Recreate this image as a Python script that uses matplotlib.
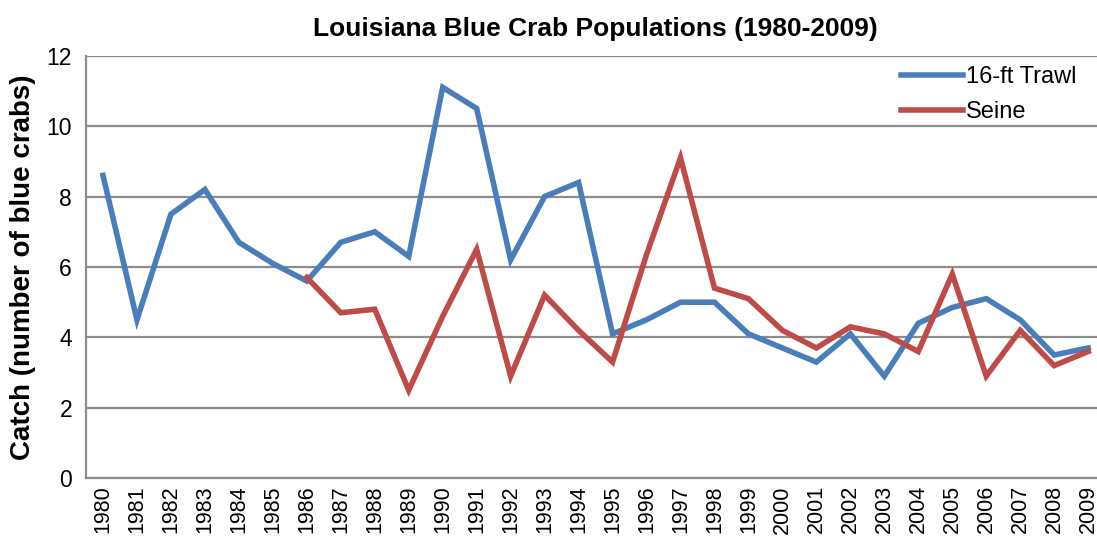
import numpy as np
import matplotlib.pyplot as plt

plt.rcParams['font.family'] = ['Liberation Sans', 'DejaVu Sans']

# Annual catch per sample, 1980-2009
years = [str(y) for y in range(1980, 2010)]
trawl = [8.6, 4.5, 7.5, 8.2, 6.7, 6.1, 5.6, 6.7, 7.0, 6.3,
         11.1, 10.5, 6.2, 8.0, 8.4, 4.1, 4.5, 5.0, 5.0, 4.1,
         3.7, 3.3, 4.1, 2.9, 4.4, 4.85, 5.1, 4.5, 3.5, 3.7]
# seine sampling starts in 1986
seine_years = years[6:]
seine = [5.7, 4.7, 4.8, 2.5, 4.6, 6.5, 2.9, 5.2, 4.2, 3.3,
         6.35, 9.1, 5.4, 5.1, 4.2, 3.7, 4.3, 4.1, 3.6, 5.8,
         2.9, 4.2, 3.2, 3.6]

fig = plt.figure(figsize=(10.97, 5.4), dpi=100)
ax = fig.add_axes([0.0784, 0.1143, 0.929, 0.7826])

x_all = np.arange(len(years))
x_seine = x_all[6:]

ax.plot(x_all, trawl, color='#4A7EBB', lw=4.0, label='16-ft Trawl', solid_joinstyle='miter')
ax.plot(x_seine, seine, color='#BE4B48', lw=4.0, label='Seine', solid_joinstyle='miter')

ax.set_xlim(-0.5, len(years) - 0.5)
ax.set_ylim(0, 12)
ax.set_yticks(range(0, 13, 2))
ax.set_xticks(x_all)
ax.set_xticklabels(years, rotation=90, fontsize=15.5)
ax.tick_params(axis='y', labelsize=16.5, length=0, pad=10)
ax.tick_params(axis='x', length=0, pad=5)

ax.grid(axis='y', color='#8c8c8c', lw=1.6)
ax.set_axisbelow(True)
for side in ['top', 'right']:
    ax.spines[side].set_visible(False)
for side in ['left', 'bottom']:
    ax.spines[side].set_color('#8c8c8c')
    ax.spines[side].set_linewidth(1.6)

ax.set_title('Louisiana Blue Crab Populations (1980-2009)', fontsize=19,
             fontweight='bold', pad=14)
ax.set_ylabel('Catch (number of blue crabs)', fontsize=20, fontweight='bold', labelpad=8)

leg = ax.legend(loc='upper right', bbox_to_anchor=(0.993, 1.025), frameon=False,
                fontsize=17, handlelength=2.6, handletextpad=0.15, labelspacing=0.55)

fig.savefig('out.png', dpi=100)
